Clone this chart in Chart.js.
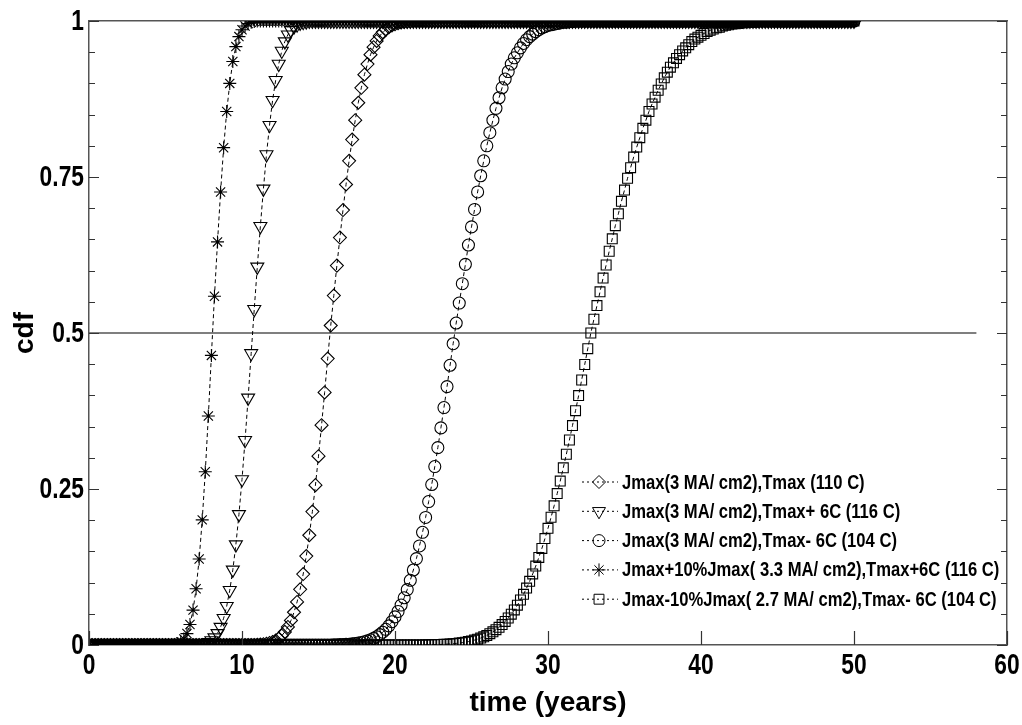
<!DOCTYPE html>
<html>
<head>
<meta charset="utf-8">
<title>cdf vs time</title>
<script src="https://cdn.jsdelivr.net/npm/chart.js@4/dist/chart.umd.min.js"></script>
<style>
  body { margin: 0; background: #fff; }
</style>
</head>
<body>
<canvas id="cdfChart" width="1022" height="725"></canvas>
<script>
// sampling grid: 0 to 50 years, every 0.2 year
const time = [];
for (let i = 0; i <= 250; i++) time.push(Math.round(i * 2) / 10);

const seriesLabels = [
  'Jmax(3 MA/ cm2),Tmax (110 C)',
  'Jmax(3 MA/ cm2),Tmax+ 6C (116 C)',
  'Jmax(3 MA/ cm2),Tmax- 6C (104 C)',
  'Jmax+10%Jmax( 3.3 MA/ cm2),Tmax+6C (116 C)',
  'Jmax-10%Jmax( 2.7 MA/ cm2),Tmax- 6C (104 C)'
];

// cdf values, one row = 2 years (10 samples)
const cdfTmax = [
  0,0,0,0,0,0,0,0,0,0, 0,0,0,0,0,0,0,0,0,0, 0,0,0,0,0,0,0,0,0,0,
  0,0,0,0,0,0,0,0,0,0, 0,0,0,0,0,0,0,0,0,0,
  0,0,0,0,0,0.0005,0.0008,0.0013,0.0021,0.0033,
  0.0049,0.0072,0.0104,0.0149,0.021,0.0289,0.0393,0.0525,0.069,0.0893,
  0.1137,0.1425,0.1759,0.2139,0.2562,0.3026,0.3523,0.4048,0.459,0.512,
  0.56,0.608,0.653,0.697,0.738,0.776,0.81,0.841,0.869,0.893,
  0.914,0.931,0.946,0.958,0.968,0.976,0.982,0.986,0.99,0.993,
  0.995,0.9965,0.9976,0.9984,0.9989,0.9993,1,1,1,1,
  1,1,1,1,1,1,1,1,1,1, 1,1,1,1,1,1,1,1,1,1, 1,1,1,1,1,1,1,1,1,1,
  1,1,1,1,1,1,1,1,1,1, 1,1,1,1,1,1,1,1,1,1, 1,1,1,1,1,1,1,1,1,1,
  1,1,1,1,1,1,1,1,1,1, 1,1,1,1,1,1,1,1,1,1, 1,1,1,1,1,1,1,1,1,1,
  1,1,1,1,1,1,1,1,1,1, 1,1,1,1,1,1,1,1,1,1, 1,1,1,1,1,1,1,1,1,1,
  1,1,1,1,1,1,1,1,1,1, 1,1,1,1,1,1,1,1,1,1,
  1
];
const cdfTplus6 = [
  0,0,0,0,0,0,0,0,0,0, 0,0,0,0,0,0,0,0,0,0, 0,0,0,0,0,0,0,0,0,0,
  0,0,0,0,0,0.0004,0.0008,0.0014,0.0025,0.0043,
  0.0072,0.0118,0.0187,0.0287,0.0429,0.0622,0.0878,0.1204,0.1609,0.2093,
  0.2653,0.3281,0.396,0.4673,0.538,0.606,0.671,0.731,0.786,0.833,
  0.873,0.905,0.931,0.952,0.967,0.978,0.985,0.991,0.994,0.997,
  0.998,0.999,1,1,1,1,1,1,1,1,
  1,1,1,1,1,1,1,1,1,1, 1,1,1,1,1,1,1,1,1,1, 1,1,1,1,1,1,1,1,1,1,
  1,1,1,1,1,1,1,1,1,1, 1,1,1,1,1,1,1,1,1,1, 1,1,1,1,1,1,1,1,1,1,
  1,1,1,1,1,1,1,1,1,1, 1,1,1,1,1,1,1,1,1,1, 1,1,1,1,1,1,1,1,1,1,
  1,1,1,1,1,1,1,1,1,1, 1,1,1,1,1,1,1,1,1,1, 1,1,1,1,1,1,1,1,1,1,
  1,1,1,1,1,1,1,1,1,1, 1,1,1,1,1,1,1,1,1,1, 1,1,1,1,1,1,1,1,1,1,
  1,1,1,1,1,1,1,1,1,1, 1,1,1,1,1,1,1,1,1,1,
  1
];
const cdfTminus6 = [
  0,0,0,0,0,0,0,0,0,0, 0,0,0,0,0,0,0,0,0,0, 0,0,0,0,0,0,0,0,0,0,
  0,0,0,0,0,0,0,0,0,0, 0,0,0,0,0,0,0,0,0,0, 0,0,0,0,0,0,0,0,0,0,
  0,0,0,0,0,0,0,0,0,0, 0,0,0,0,0,0,0,0,0,0,
  0.0003,0.0004,0.0006,0.0008,0.001,0.0013,0.0018,0.0024,0.0031,0.004,
  0.0052,0.0066,0.0084,0.0106,0.0133,0.0166,0.0205,0.0252,0.0307,0.0373,
  0.045,0.0538,0.064,0.0757,0.0888,0.1037,0.1202,0.1385,0.1587,0.1806,
  0.2044,0.2299,0.2572,0.286,0.3163,0.3479,0.3805,0.4141,0.4483,0.4828,
  0.516,0.548,0.579,0.61,0.641,0.67,0.698,0.726,0.752,0.776,
  0.8,0.821,0.841,0.86,0.877,0.893,0.907,0.919,0.931,0.941,
  0.949,0.957,0.964,0.97,0.975,0.979,0.983,0.986,0.989,0.991,
  0.993,0.994,0.995,0.996,0.997,0.998,0.998,0.999,0.999,1,
  1,1,1,1,1,1,1,1,1,1, 1,1,1,1,1,1,1,1,1,1, 1,1,1,1,1,1,1,1,1,1,
  1,1,1,1,1,1,1,1,1,1, 1,1,1,1,1,1,1,1,1,1, 1,1,1,1,1,1,1,1,1,1,
  1,1,1,1,1,1,1,1,1,1, 1,1,1,1,1,1,1,1,1,1, 1,1,1,1,1,1,1,1,1,1,
  1
];
const cdfJplus10 = [
  0,0,0,0,0,0,0,0,0,0, 0,0,0,0,0,0,0,0,0,0,
  0,0,0,0,0,0,0,0,0,0.0023,
  0.0048,0.0096,0.0183,0.0329,0.0559,0.0901,0.1379,0.2005,0.2776,0.3669,
  0.4641,0.559,0.646,0.726,0.797,0.855,0.9,0.935,0.959,0.975,
  0.986,0.992,0.996,0.998,0.999,1,1,1,1,1,
  1,1,1,1,1,1,1,1,1,1, 1,1,1,1,1,1,1,1,1,1, 1,1,1,1,1,1,1,1,1,1,
  1,1,1,1,1,1,1,1,1,1, 1,1,1,1,1,1,1,1,1,1, 1,1,1,1,1,1,1,1,1,1,
  1,1,1,1,1,1,1,1,1,1, 1,1,1,1,1,1,1,1,1,1, 1,1,1,1,1,1,1,1,1,1,
  1,1,1,1,1,1,1,1,1,1, 1,1,1,1,1,1,1,1,1,1, 1,1,1,1,1,1,1,1,1,1,
  1,1,1,1,1,1,1,1,1,1, 1,1,1,1,1,1,1,1,1,1, 1,1,1,1,1,1,1,1,1,1,
  1,1,1,1,1,1,1,1,1,1, 1,1,1,1,1,1,1,1,1,1, 1,1,1,1,1,1,1,1,1,1,
  1,1,1,1,1,1,1,1,1,1,
  1
];
const cdfJminus10 = [
  0,0,0,0,0,0,0,0,0,0, 0,0,0,0,0,0,0,0,0,0, 0,0,0,0,0,0,0,0,0,0,
  0,0,0,0,0,0,0,0,0,0, 0,0,0,0,0,0,0,0,0,0, 0,0,0,0,0,0,0,0,0,0,
  0,0,0,0,0,0,0,0,0,0, 0,0,0,0,0,0,0,0,0,0, 0,0,0,0,0,0,0,0,0,0,
  0,0,0,0,0,0,0,0,0,0, 0,0,0,0,0,0,0,0,0,0,
  0.0003,0.0004,0.0005,0.0006,0.0008,0.0009,0.0012,0.0014,0.0017,0.0021,
  0.0026,0.0032,0.0038,0.0046,0.0055,0.0066,0.0079,0.0094,0.0111,0.0131,
  0.0154,0.0181,0.0211,0.0245,0.0284,0.0328,0.0377,0.0433,0.0494,0.0562,
  0.0638,0.0721,0.0812,0.0912,0.102,0.1139,0.1265,0.1403,0.1548,0.1705,
  0.187,0.2047,0.223,0.2426,0.2627,0.284,0.3057,0.3285,0.3516,0.3756,
  0.3997,0.4247,0.4495,0.4749,0.5,0.522,0.544,0.566,0.588,0.609,
  0.631,0.651,0.672,0.691,0.711,0.729,0.748,0.765,0.782,0.798,
  0.813,0.828,0.841,0.855,0.867,0.878,0.889,0.899,0.909,0.918,
  0.926,0.933,0.94,0.946,0.952,0.957,0.962,0.967,0.971,0.974,
  0.977,0.98,0.983,0.985,0.987,0.989,0.99,0.992,0.993,0.994,
  0.995,0.9955,0.996,0.997,0.997,0.998,0.998,0.998,0.999,0.999,
  0.999,1,1,1,1,1,1,1,1,1,
  1,1,1,1,1,1,1,1,1,1, 1,1,1,1,1,1,1,1,1,1,
  1
];
const seriesValues = [cdfTmax, cdfTplus6, cdfTminus6, cdfJplus10, cdfJminus10];

// horizontal reference line at cdf = 0.5
const refLineX = [0, 58];
const refLineY = [0.5, 0.5];

const xTicks = [0, 10, 20, 30, 40, 50, 60];

const FONT = '"Liberation Sans", Arial, sans-serif';
const GRAY = '#555';
// the original uses a condensed bold face, squeeze the regular one
const TICK_NARROW = 0.76;
const KEY_NARROW = 0.83;

const markers = [
  { pointStyle: 'rectRot', radius: 6.5, rotation: 0 },
  { pointStyle: 'triangle', radius: 7.5, rotation: 180 },
  { pointStyle: 'circle', radius: 6, rotation: 0 },
  { pointStyle: 'star', radius: 6.5, rotation: 0 },
  { pointStyle: 'rect', radius: 7, rotation: 0 }
];

const datasets = seriesValues.map((vals, k) => ({
  label: seriesLabels[k],
  data: vals.map((v, i) => ({ x: time[i], y: v })),
  borderColor: '#000',
  borderWidth: 1,
  borderDash: [4, 3],
  pointStyle: markers[k].pointStyle,
  pointRadius: markers[k].radius,
  pointRotation: markers[k].rotation,
  pointBorderColor: '#000',
  pointBackgroundColor: 'rgba(0,0,0,0)',
  pointBorderWidth: 1.1,
  tension: 0,
  fill: false,
  inKey: true
}));

datasets.push({
  label: 'half',
  data: refLineX.map((x, i) => ({ x: x, y: refLineY[i] })),
  borderColor: GRAY,
  borderWidth: 1.5,
  pointRadius: 0,
  fill: false,
  inKey: false
});

function narrowText(ctx, text, x, y, k) {
  ctx.save();
  ctx.translate(x, y);
  ctx.scale(k, 1);
  ctx.fillText(text, 0, 0);
  ctx.restore();
}

// tick marks pointing into the plot box, plus condensed tick labels
const insideTicks = {
  id: 'insideTicks',
  afterDatasetsDraw(chart) {
    const { ctx, chartArea: a, scales } = chart;
    ctx.save();
    ctx.strokeStyle = '#333';
    ctx.lineWidth = 1.2;
    ctx.beginPath();
    scales.y.ticks.forEach(t => {
      const py = Math.round(scales.y.getPixelForValue(t.value)) + 0.5;
      const len = t.label ? 10 : 6;
      ctx.moveTo(a.left, py); ctx.lineTo(a.left + len, py);
      ctx.moveTo(a.right, py); ctx.lineTo(a.right - len, py);
    });
    scales.x.ticks.forEach(t => {
      const px = Math.round(scales.x.getPixelForValue(t.value)) + 0.5;
      ctx.moveTo(px, a.bottom); ctx.lineTo(px, a.bottom - 14);
    });
    ctx.stroke();
    ctx.restore();
  },
  afterDraw(chart) {
    const { ctx, chartArea: a, scales } = chart;
    ctx.save();
    ctx.fillStyle = '#000';
    ctx.font = 'bold 30px ' + FONT;
    ctx.textAlign = 'right';
    ctx.textBaseline = 'middle';
    scales.y.ticks.forEach(t => {
      if (!t.label) return;
      narrowText(ctx, t.label, a.left - 5, scales.y.getPixelForValue(t.value) + 1, TICK_NARROW);
    });
    ctx.textAlign = 'center';
    ctx.textBaseline = 'top';
    scales.x.ticks.forEach(t => {
      narrowText(ctx, String(t.label), scales.x.getPixelForValue(t.value), a.bottom + 6, TICK_NARROW);
    });
    ctx.restore();
  }
};

// legend in the lower right corner of the box
const boxLegend = {
  id: 'boxLegend',
  afterDraw(chart) {
    const { ctx, chartArea: a } = chart;
    const x0 = a.right - 425;
    const y0 = a.bottom - 163;
    const row = 29.3;
    ctx.save();
    ctx.font = 'bold 20px ' + FONT;
    ctx.textBaseline = 'middle';
    ctx.textAlign = 'left';
    let n = 0;
    chart.data.datasets.forEach(ds => {
      if (!ds.inKey) return;
      const y = y0 + n * row;
      ctx.strokeStyle = '#000';
      ctx.lineWidth = 1;
      ctx.setLineDash([2, 3]);
      ctx.beginPath();
      ctx.moveTo(x0, y); ctx.lineTo(x0 + 36, y);
      ctx.stroke();
      ctx.setLineDash([]);
      ctx.fillStyle = 'rgba(0,0,0,0)';
      Chart.helpers.drawPoint(ctx, {
        pointStyle: ds.pointStyle,
        rotation: ds.pointRotation,
        radius: ds.pointRadius,
        borderWidth: 1
      }, x0 + 17, y);
      ctx.fillStyle = '#000';
      narrowText(ctx, ds.label, x0 + 40, y + 1, KEY_NARROW);
      n++;
    });
    ctx.restore();
  }
};

const edge = { display: true, color: GRAY, width: 1.5 };
const noGrid = { display: true, drawOnChartArea: false, drawTicks: false };

new Chart(document.getElementById('cdfChart'), {
  type: 'line',
  data: { datasets: datasets },
  plugins: [insideTicks, boxLegend],
  options: {
    responsive: false,
    animation: false,
    devicePixelRatio: 1,
    layout: { padding: 0 },
    plugins: {
      legend: { display: false },
      tooltip: { enabled: false }
    },
    scales: {
      x: {
        type: 'linear',
        position: 'bottom',
        min: 0,
        max: 60,
        afterBuildTicks: s => { s.ticks = xTicks.map(v => ({ value: v })); },
        ticks: { display: false },
        grid: noGrid,
        border: edge,
        title: {
          display: true,
          text: 'time (years)',
          color: '#000',
          font: { family: FONT, size: 28, weight: 'bold' },
          padding: { top: 0, bottom: 5 }
        },
        afterFit: s => { s.height = 80; }
      },
      xTop: {
        type: 'linear',
        position: 'top',
        min: 0,
        max: 60,
        ticks: { display: false },
        grid: noGrid,
        border: edge,
        afterFit: s => { s.height = 21; }
      },
      y: {
        type: 'linear',
        position: 'left',
        min: 0,
        max: 1,
        ticks: {
          display: false,
          stepSize: 0.05,
          autoSkip: false,
          callback: v => (Math.abs(v * 4 - Math.round(v * 4)) < 1e-6 ? String(+v.toFixed(2)) : '')
        },
        grid: noGrid,
        border: edge,
        title: {
          display: true,
          text: 'cdf',
          color: '#000',
          font: { family: FONT, size: 28, weight: 'bold' },
          padding: { top: 8, bottom: 0 }
        },
        afterFit: s => { s.width = 89; }
      },
      yRight: {
        type: 'linear',
        position: 'right',
        min: 0,
        max: 1,
        ticks: { display: false, stepSize: 0.05 },
        grid: noGrid,
        border: edge,
        afterFit: s => { s.width = 15; }
      }
    }
  }
});
</script>
</body>
</html>
